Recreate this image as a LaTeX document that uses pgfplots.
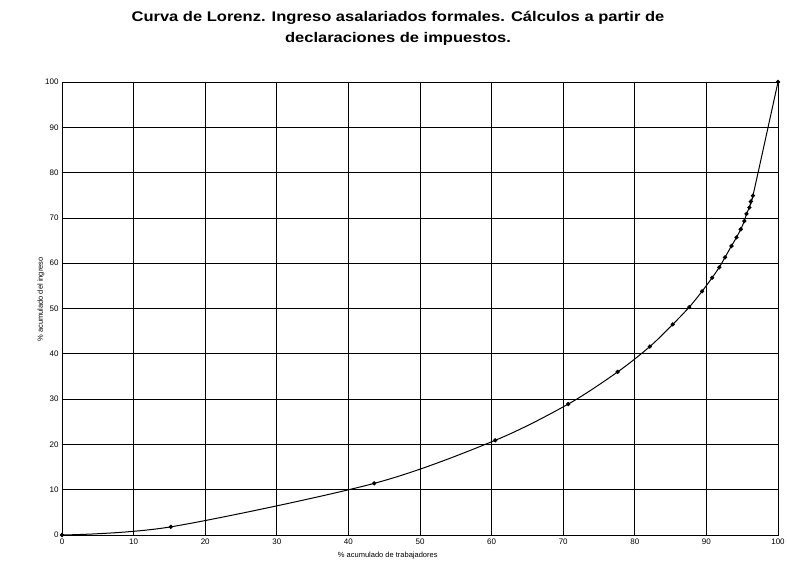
\documentclass[border=0pt]{standalone}
\usepackage{pgfplots}
\pgfplotsset{compat=1.18}
\usepackage{fontspec}
\setmainfont{Liberation Sans}
\begin{document}
\begin{tikzpicture}[x=1pt,y=1pt]
\path[use as bounding box] (-62,-44) rectangle (725,535);
\begin{axis}[
  at={(0,0)}, anchor=south west,
  scale only axis, width=716pt, height=453pt,
  xmin=0, xmax=100, ymin=0, ymax=100,
  xtick={0,10,...,100}, ytick={0,10,...,100},
  grid=major,
  major grid style={black, line width=0.7pt},
  axis line style={black, line width=0.9pt},
  tick style={draw=none},
  ticklabel style={font=\fontsize{8}{9}\selectfont},
  /pgf/number format/assume math mode=true,
  xlabel={\% acumulado de trabajadores},
  ylabel={\% acumulado del ingreso},
  label style={font=\fontsize{7.5}{9}\selectfont},
  xlabel style={at={(axis description cs:0.455,0)}, anchor=north, yshift=-14pt},
  ylabel style={at={(axis description cs:0,0.52)}, anchor=south, yshift=14pt},
  clip=false,
]
\addplot[black, line width=1pt, smooth, tension=0.5, mark=*, mark size=1.6pt,
  mark options={fill=black}] coordinates {
  (0,0) (15.2,1.8) (43.6,11.4) (60.5,20.9) (70.7,28.9) (77.6,36.0)
  (82.1,41.6) (85.3,46.5) (87.6,50.3) (89.4,53.8) (90.8,56.8)
  (91.8,59.1) (92.6,61.3) (93.5,63.8) (94.2,65.7) (94.8,67.5)
  (95.3,69.3) (95.6,70.9) (96.0,72.3) (96.2,73.6) (96.5,74.9)
  (100,100)
};
\end{axis}
\node[align=center] at (336,507)
  {\scalebox{1.18}[1]{\parbox{460pt}{\centering\bfseries\fontsize{14}{21}\selectfont Curva de Lorenz. Ingreso asalariados formales. Cálculos a partir de\\declaraciones de impuestos.}}};
\end{tikzpicture}
\end{document}
